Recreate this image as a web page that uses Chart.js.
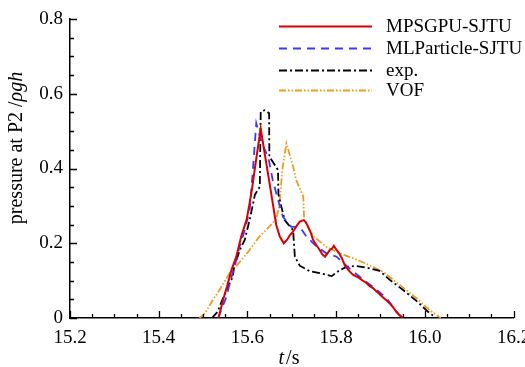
<!DOCTYPE html>
<html>
<head>
<meta charset="utf-8">
<script src="https://cdn.jsdelivr.net/npm/chart.js@4.4.1/dist/chart.umd.min.js"></script>
<style>
  html, body { margin: 0; padding: 0; background: #fff; }
  #wrap { width: 525px; height: 367px; }
</style>
</head>
<body>
<div id="wrap"><canvas id="c" width="525" height="367"></canvas></div>
<script>
// ---- data ----
const seriesNames = ["MPSGPU-SJTU", "MLParticle-SJTU", "exp.", "VOF"];

const tMPS = [15.535, 15.545, 15.554, 15.564, 15.575, 15.586, 15.598, 15.605, 15.610, 15.618, 15.630, 15.639, 15.650, 15.665, 15.673, 15.682, 15.690, 15.696, 15.703, 15.710, 15.718, 15.727, 15.732, 15.737, 15.743, 15.748, 15.755, 15.763, 15.769, 15.775, 15.780, 15.786, 15.791, 15.795, 15.801, 15.807, 15.813, 15.820, 15.826, 15.831, 15.838, 15.844, 15.851, 15.860, 15.867, 15.876, 15.883, 15.890, 15.896, 15.901, 15.908, 15.914, 15.922, 15.929, 15.935, 15.941, 15.951];
const pMPS = [0, 0.048, 0.084, 0.128, 0.164, 0.218, 0.262, 0.307, 0.342, 0.410, 0.507, 0.440, 0.360, 0.249, 0.218, 0.200, 0.210, 0.222, 0.231, 0.245, 0.258, 0.262, 0.256, 0.244, 0.228, 0.209, 0.196, 0.182, 0.170, 0.164, 0.172, 0.182, 0.186, 0.193, 0.182, 0.173, 0.160, 0.140, 0.131, 0.124, 0.116, 0.112, 0.108, 0.100, 0.095, 0.085, 0.080, 0.072, 0.066, 0.060, 0.053, 0.047, 0.038, 0.028, 0.018, 0.010, 0];

const tML = [15.534, 15.543, 15.553, 15.560, 15.571, 15.582, 15.594, 15.605, 15.612, 15.620, 15.632, 15.647, 15.657, 15.669, 15.680, 15.699, 15.718, 15.733, 15.756, 15.778, 15.801, 15.823, 15.846, 15.864, 15.887, 15.914, 15.933, 15.948];
const pML = [0, 0.028, 0.057, 0.093, 0.137, 0.190, 0.235, 0.289, 0.390, 0.521, 0.470, 0.430, 0.370, 0.316, 0.271, 0.244, 0.244, 0.218, 0.191, 0.173, 0.164, 0.140, 0.117, 0.100, 0.080, 0.053, 0.021, 0];

const tExp = [15.520, 15.533, 15.537, 15.553, 15.567, 15.570, 15.583, 15.594, 15.605, 15.617, 15.628, 15.630, 15.639, 15.649, 15.6495, 15.669, 15.670, 15.684, 15.703, 15.707, 15.718, 15.741, 15.763, 15.790, 15.808, 15.824, 15.845, 15.868, 15.898, 15.921, 15.951, 15.981, 16.004, 16.025];
const pExp = [0, 0.017, 0.030, 0.075, 0.110, 0.137, 0.182, 0.209, 0.262, 0.330, 0.351, 0.552, 0.556, 0.548, 0.432, 0.396, 0.330, 0.262, 0.235, 0.164, 0.140, 0.125, 0.120, 0.112, 0.128, 0.137, 0.139, 0.135, 0.126, 0.102, 0.075, 0.046, 0.020, 0];

const tVOF = [15.492, 15.504, 15.522, 15.537, 15.560, 15.583, 15.605, 15.627, 15.650, 15.665, 15.672, 15.679, 15.688, 15.703, 15.710, 15.726, 15.728, 15.748, 15.778, 15.808, 15.838, 15.868, 15.905, 15.944, 15.981, 16.011, 16.036];
const pVOF = [0, 0.012, 0.048, 0.075, 0.120, 0.150, 0.182, 0.218, 0.245, 0.265, 0.300, 0.400, 0.467, 0.405, 0.369, 0.325, 0.262, 0.220, 0.190, 0.173, 0.160, 0.145, 0.124, 0.088, 0.053, 0.021, 0];

const xTickValues = [15.2, 15.4, 15.6, 15.8, 16.0, 16.2];
const yTickValues = [0, 0.2, 0.4, 0.6, 0.8];

// ---- build ----
const FONT = '"Liberation Serif", "Times New Roman", serif';
const pts = (t, p) => t.map((v, i) => ({ x: v, y: p[i] }));

const datasets = [
  { label: seriesNames[0], data: pts(tMPS, pMPS), borderColor: '#d80000', borderWidth: 2, borderDash: [] },
  { label: seriesNames[1], data: pts(tML, pML), borderColor: '#3a3aff', borderWidth: 1.8, borderDash: [8, 6] },
  { label: seriesNames[2], data: pts(tExp, pExp), borderColor: '#000000', borderWidth: 1.8, borderDash: [8, 3, 2, 3] },
  { label: seriesNames[3], data: pts(tVOF, pVOF), borderColor: '#f29a1f', borderWidth: 1.8, borderDash: [7, 2, 1.5, 2, 1.5, 2] }
].map(d => Object.assign(d, { fill: false, pointRadius: 0, tension: 0, backgroundColor: d.borderColor }));

const decor = {
  id: 'decor',
  afterDraw(chart) {
    const ctx = chart.ctx, a = chart.chartArea;
    const xs = chart.scales.x, ys = chart.scales.y;
    ctx.save();
    ctx.strokeStyle = '#000';
    ctx.lineWidth = 1.3;
    ctx.setLineDash([]);
    ctx.beginPath();
    for (let i = 0; i <= 20; i++) {
      const v = 15.2 + i * 0.05;
      const x = Math.round(xs.getPixelForValue(v)) + 0.5;
      const len = (i % 4 === 0) ? 7 : 4;
      ctx.moveTo(x, a.bottom); ctx.lineTo(x, a.bottom - len);
    }
    for (let i = 0; i <= 16; i++) {
      const v = i * 0.05;
      const y = Math.round(ys.getPixelForValue(v)) + 0.5;
      const len = (i % 4 === 0) ? 7 : 4;
      ctx.moveTo(a.left, y); ctx.lineTo(a.left + len, y);
    }
    ctx.stroke();

    // legend
    const lx0 = 279, lx1 = 372, tx = 386;
    const rows = [26, 48, 70, 90];
    chart.data.datasets.forEach((d, i) => {
      const y = rows[i] + 0.5;
      ctx.strokeStyle = d.borderColor;
      ctx.lineWidth = d.borderWidth;
      ctx.setLineDash(d.borderDash || []);
      ctx.beginPath(); ctx.moveTo(lx0, y); ctx.lineTo(lx1, y); ctx.stroke();
      ctx.setLineDash([]);
      ctx.fillStyle = '#000';
      ctx.font = '19px ' + FONT;
      ctx.textBaseline = 'middle';
      ctx.textAlign = 'left';
      ctx.fillText(d.label, tx, rows[i] + 1);
    });

    // x title: t / s
    ctx.fillStyle = '#000';
    ctx.textBaseline = 'alphabetic';
    ctx.textAlign = 'left';
    const p1 = 't', p2 = '/s';
    ctx.font = 'italic 20px ' + FONT;
    const w1 = ctx.measureText(p1).width;
    ctx.font = '20px ' + FONT;
    const w2 = ctx.measureText(p2).width;
    let sx = 289 - (w1 + 2 + w2) / 2;
    ctx.font = 'italic 20px ' + FONT;
    ctx.fillText(p1, sx, 364);
    ctx.font = '20px ' + FONT;
    ctx.fillText(p2, sx + w1 + 2, 364);

    // y title: pressure at P2 /ρgh
    ctx.save();
    ctx.translate(22, 148);
    ctx.rotate(-Math.PI / 2);
    const a1 = 'pressure at P2 /', a2 = 'ρgh';
    ctx.font = '20px ' + FONT;
    const b1 = ctx.measureText(a1).width;
    ctx.font = 'italic 20px ' + FONT;
    const b2 = ctx.measureText(a2).width;
    let sy = -(b1 + b2) / 2;
    ctx.font = '20px ' + FONT;
    ctx.fillText(a1, sy, 0);
    ctx.font = 'italic 20px ' + FONT;
    ctx.fillText(a2, sy + b1, 0);
    ctx.restore();
    ctx.restore();
  }
};

new Chart(document.getElementById('c'), {
  type: 'line',
  data: { datasets },
  plugins: [decor],
  options: {
    responsive: false,
    animation: false,
    devicePixelRatio: 1,
    layout: { padding: { top: 19, right: 11.5, left: 0, bottom: 0 } },
    plugins: { legend: { display: false }, tooltip: { enabled: false } },
    scales: {
      x: {
        type: 'linear', min: 15.2, max: 16.2,
        afterBuildTicks: s => { s.ticks = xTickValues.map(v => ({ value: v })); },
        afterFit: s => { s.height = 49; s.paddingLeft = 0; s.paddingRight = 0; },
        ticks: { color: '#000', font: { family: FONT, size: 19 }, padding: 9, autoSkip: false, maxRotation: 0,
                 callback: v => Number(v).toFixed(1) },
        grid: { display: true, drawOnChartArea: false, drawTicks: false },
        border: { display: true, color: '#000', width: 1.5 }
      },
      y: {
        type: 'linear', min: 0, max: 0.8,
        afterBuildTicks: s => { s.ticks = yTickValues.map(v => ({ value: v })); },
        afterFit: s => { s.width = 70; s.paddingTop = 0; s.paddingBottom = 0; },
        ticks: { color: '#000', font: { family: FONT, size: 19 }, padding: 7,
                 callback: v => (v === 0 ? '0' : Number(v).toFixed(1)) },
        grid: { display: true, drawOnChartArea: false, drawTicks: false },
        border: { display: true, color: '#000', width: 1.5 }
      }
    }
  }
});
</script>
</body>
</html>
